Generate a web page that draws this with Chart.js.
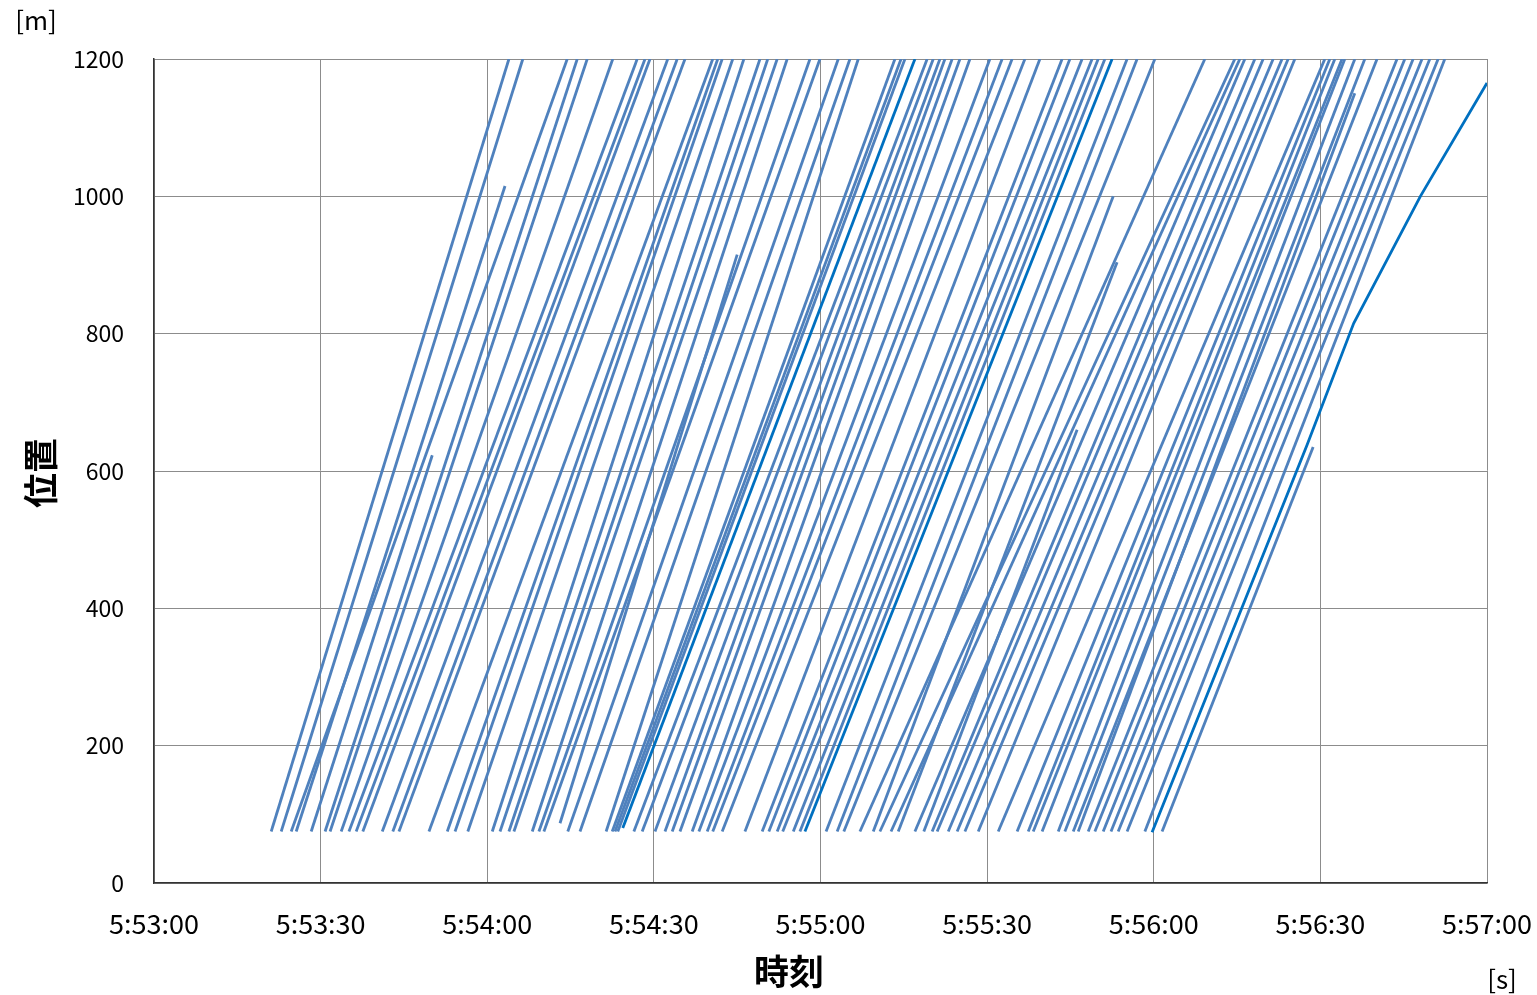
<!DOCTYPE html>
<html>
<head>
<meta charset="utf-8">
<script src="https://cdn.jsdelivr.net/npm/chart.js@4.4.1/dist/chart.umd.min.js"></script>
<style>
  html, body { margin: 0; padding: 0; background: #fff; }
  #wrap { width: 1537px; height: 995px; position: relative; }
</style>
</head>
<body>
<div id="wrap"><canvas id="chart" width="1537" height="995"></canvas></div>
<script>
// ================= DATA =================
// time = seconds after 5:53:00, position = metres
const T0_HOUR = 5, T0_MIN = 53;
const xTicks = [0, 30, 60, 90, 120, 150, 180, 210, 240];
const yTicks = [0, 200, 400, 600, 800, 1000, 1200];
const START_POS = 75;
const END_POS = 1200;

// vehicles that run through to 1200 m (entry time, exit time)
const throughStart = [
    21.1, 22.9, 24.7, 30.8, 31.7, 33.7, 35.1, 36.4, 37.6, 41.1, 43.0, 44.1, 49.5, 52.8, 54.2,
    56.5, 60.9, 62.3, 63.9, 64.8, 68.1, 69.3, 70.2, 74.5, 76.7, 81.4, 82.5, 83.0, 83.5,
    86.4, 87.9, 90.2, 92.0, 93.3, 94.7, 96.9, 98.1, 99.6, 100.6, 102.3, 106.4, 109.5, 110.7,
    112.2, 113.2, 115.1, 116.3,
    121.0, 123.0, 124.2, 127.1, 130.7, 132.7, 137.0, 140.1, 141.0, 143.0, 144.6, 146.0, 148.4,
    152.0, 155.4, 157.4, 158.3, 159.9, 162.8, 164.0, 165.5, 168.2, 169.4, 170.9, 172.3, 173.6,
    175.2, 178.4
];
const throughEnd = [
    63.9, 66.4, 74.4, 76.2, 78.0, 82.6, 87.0, 88.4, 89.3, 92.5, 94.2, 95.6, 100.6, 101.5, 102.3,
    104.2, 106.2, 109.1, 110.5, 112.2, 114.0, 118.1, 119.9, 123.2, 125.3, 126.8, 133.4, 134.5, 135.2,
    139.2, 140.3, 141.5, 142.4, 143.7, 145.1, 146.9, 150.5, 152.7, 154.5, 156.8, 159.5, 163.5, 164.9,
    167.1, 168.9, 170.0, 171.2,
    175.2, 177.0, 180.2, 189.2, 194.6, 195.5, 196.4, 198.2, 199.7, 201.5, 203.1, 204.2, 205.4,
    210.8, 211.7, 212.6, 213.9, 214.4, 216.2, 218.0, 220.2, 223.8, 225.2, 226.7, 228.3, 229.7,
    231.2, 232.4
];

// darker (slower) vehicles
const darkStart = [84.4, 117.2];
const darkStartPos = [80, 75];
const darkEnd = [137.0, 172.5];

// slow vehicle leaving the chart at 5:57:00
const slowTimes = [179.7, 207.6, 216.0, 228.0, 240.0];
const slowPositions = [74, 638, 815, 1000, 1165];

// trajectories that stop before 1200 m
const shortStart = [25.6, 28.3, 73.1, 129.5, 134.0, 138.6, 166.4, 181.5];
const shortStartPos = [75, 75, 87, 75, 75, 75, 75, 75];
const shortEnd = [63.2, 50.1, 105.0, 172.7, 173.4, 166.2, 216.2, 208.7];
const shortEndPos = [1015, 623, 915, 1000, 904, 660, 1150, 635];

// ================= BUILD DATASETS =================
const LINE_BLUE = '#4f81bd';
const DARK_BLUE = '#0070c0';

function lineSet(points, color) {
    return {
        data: points,
        borderColor: color,
        borderWidth: 2.8,
        pointRadius: 0,
        fill: false,
        tension: 0
    };
}

const datasets = [];
throughStart.forEach((t, i) => {
    datasets.push(lineSet([{ x: t, y: START_POS }, { x: throughEnd[i], y: END_POS }], LINE_BLUE));
});
shortStart.forEach((t, i) => {
    datasets.push(lineSet([{ x: t, y: shortStartPos[i] }, { x: shortEnd[i], y: shortEndPos[i] }], LINE_BLUE));
});
darkStart.forEach((t, i) => {
    datasets.push(lineSet([{ x: t, y: darkStartPos[i] }, { x: darkEnd[i], y: END_POS }], DARK_BLUE));
});
datasets.push(lineSet(slowTimes.map((t, i) => ({ x: t, y: slowPositions[i] })), DARK_BLUE));

function fmtTime(sec) {
    const total = T0_MIN * 60 + sec;
    const m = Math.floor(total / 60);
    const s = Math.round(total % 60);
    return T0_HOUR + ':' + String(m).padStart(2, '0') + ':' + String(s).padStart(2, '0');
}

// ================= TITLES PLUGIN =================
const titlesPlugin = {
    id: 'titles',
    afterDraw(chart) {
        const ctx = chart.ctx;
        ctx.save();
        ctx.fillStyle = '#000';
        ctx.textAlign = 'center';
        ctx.textBaseline = 'middle';

        ctx.font = 'bold 35px "Noto Sans CJK JP"';
        ctx.fillText('時刻', 789, 972);

        ctx.save();
        ctx.translate(41, 473);
        ctx.rotate(-Math.PI / 2);
        ctx.fillText('位置', 0, 0);
        ctx.restore();

        ctx.font = '26px "Noto Sans CJK JP"';
        ctx.fillText('[m]', 36, 20);
        ctx.fillText('[s]', 1502, 979);
        ctx.restore();
    }
};

// ================= CHART =================
new Chart(document.getElementById('chart'), {
    type: 'line',
    data: { datasets },
    options: {
        responsive: false,
        animation: false,
        events: [],
        layout: { padding: { left: 0, top: 59, right: 50, bottom: 0 } },
        plugins: {
            legend: { display: false },
            tooltip: { enabled: false }
        },
        scales: {
            x: {
                type: 'linear',
                min: xTicks[0],
                max: xTicks[xTicks.length - 1],
                afterBuildTicks: s => { s.ticks = xTicks.map(v => ({ value: v })); },
                afterFit: s => {
                    s.height = 112;
                    s.paddingLeft = 0;
                    s.paddingRight = 0;
                },
                ticks: {
                    callback: v => fmtTime(v),
                    color: '#000',
                    font: { family: '"Noto Sans CJK JP"', size: 27 },
                    padding: 25,
                    maxRotation: 0,
                    autoSkip: false
                },
                grid: { color: '#8c8c8c', lineWidth: 1, drawTicks: false },
                border: { color: '#333', width: 1.5 }
            },
            y: {
                type: 'linear',
                min: yTicks[0],
                max: yTicks[yTicks.length - 1],
                afterBuildTicks: s => { s.ticks = yTicks.map(v => ({ value: v })); },
                afterFit: s => {
                    s.width = 154;
                    s.paddingTop = 0;
                    s.paddingBottom = 0;
                },
                ticks: {
                    callback: v => String(v),
                    color: '#000',
                    font: { family: '"Noto Sans CJK JP"', size: 23 },
                    padding: 30
                },
                grid: { color: '#8c8c8c', lineWidth: 1, drawTicks: false },
                border: { color: '#333', width: 1.5 }
            }
        }
    },
    plugins: [titlesPlugin]
});
</script>
</body>
</html>
